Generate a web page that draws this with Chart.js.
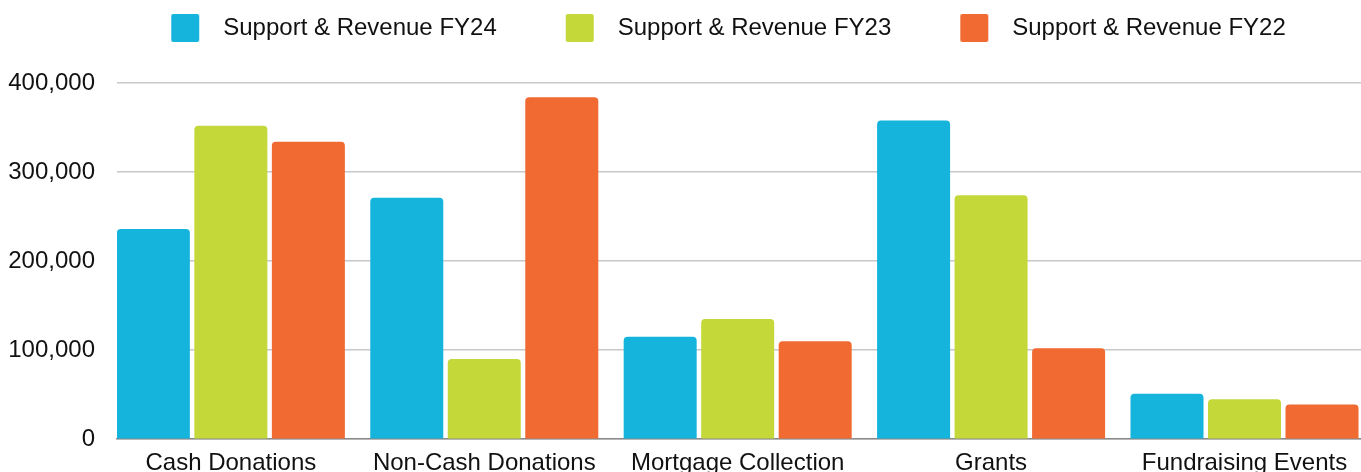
<!DOCTYPE html>
<html>
<head>
<meta charset="utf-8">
<script src="https://cdn.jsdelivr.net/npm/chart.js@4/dist/chart.umd.min.js"></script>
<style>
  html, body { margin: 0; padding: 0; background: #fff; overflow: hidden; }
  #wrap { width: 1361px; height: 472px; overflow: hidden; }
</style>
</head>
<body>
<div id="wrap"><canvas id="revenueChart" width="1361" height="488"></canvas></div>
<script>
const categories = ['Cash Donations', 'Non-Cash Donations', 'Mortgage Collection', 'Grants', 'Fundraising Events'];
const seriesNames = ['Support & Revenue FY24', 'Support & Revenue FY23', 'Support & Revenue FY22'];
const fy24 = [236000, 271000, 115000, 358000, 51000];
const fy23 = [352000, 90000, 135000, 274000, 45000];
const fy22 = [334000, 384000, 110000, 102000, 39000];
const yTicks = [0, 100000, 200000, 300000, 400000];

const colors = ['#15b4dd', '#c4d83a', '#f06a31'];
const font = 'Liberation Sans, Arial, sans-serif';

// legend swatch drawn into a small canvas so the gap to the text matches
function makeSwatch(color) {
    const c = document.createElement('canvas');
    c.width = 93;
    c.height = 28;
    const g = c.getContext('2d');
    g.fillStyle = color;
    g.beginPath();
    g.roundRect(53, 0, 28, 28, 2);
    g.fill();
    return c;
}
const swatches = colors.map(makeSwatch);

// extra room under the legend, and nudge it right like the original
const legendGap = {
    id: 'legendGap',
    beforeInit(chart) {
        const fit = chart.legend.fit;
        chart.legend.fit = function () {
            fit.bind(chart.legend)();
            this.height += 33;
        };
    },
    afterLayout(chart) {
        chart.legend.left = 43;
    }
};

document.addEventListener('DOMContentLoaded', function () {
    const ctx = document.getElementById('revenueChart');
    new Chart(ctx.getContext('2d'), {
        type: 'bar',
        data: {
            labels: categories,
            datasets: [fy24, fy23, fy22].map((values, i) => ({
                label: seriesNames[i],
                data: values,
                backgroundColor: colors[i],
                borderRadius: 4,
                borderSkipped: 'start',
                categoryPercentage: 0.9175,
                barPercentage: 0.942
            }))
        },
        options: {
            responsive: false,
            animation: false,
            locale: 'en-US',
            layout: { padding: { left: 8, right: 0, top: 0, bottom: 0 } },
            plugins: {
                legend: {
                    position: 'top',
                    labels: {
                        usePointStyle: true,
                        pointStyleWidth: 93,
                        padding: 16,
                        color: '#111',
                        font: { family: font, size: 24 },
                        generateLabels(chart) {
                            const items = Chart.defaults.plugins.legend.labels.generateLabels(chart);
                            items.forEach((it, i) => { it.pointStyle = swatches[i]; });
                            return items;
                        }
                    }
                },
                tooltip: { enabled: false }
            },
            scales: {
                x: {
                    grid: { display: false, drawTicks: false },
                    border: { display: true, color: '#8a8a8a', width: 1.5 },
                    ticks: {
                        color: '#111',
                        padding: 10,
                        maxRotation: 0,
                        autoSkip: false,
                        font: { family: font, size: 24 }
                    },
                    afterBuildTicks(scale) {
                        // groups sit flush with the left edge of the plot
                        scale._startValue = -0.4493;
                        scale._valueRange = 4.909;
                    }
                },
                y: {
                    min: 0,
                    max: 400000,
                    grid: { color: '#c8c8c8', lineWidth: 1.5, drawTicks: false },
                    border: { display: false },
                    ticks: {
                        stepSize: 100000,
                        padding: 22,
                        color: '#111',
                        font: { family: font, size: 24 }
                    },
                    afterBuildTicks(scale) {
                        scale.ticks = yTicks.map(v => ({ value: v }));
                    },
                    afterFit(scale) {
                        scale.width = 109;
                    }
                }
            }
        },
        plugins: [legendGap]
    });
});
</script>
</body>
</html>
